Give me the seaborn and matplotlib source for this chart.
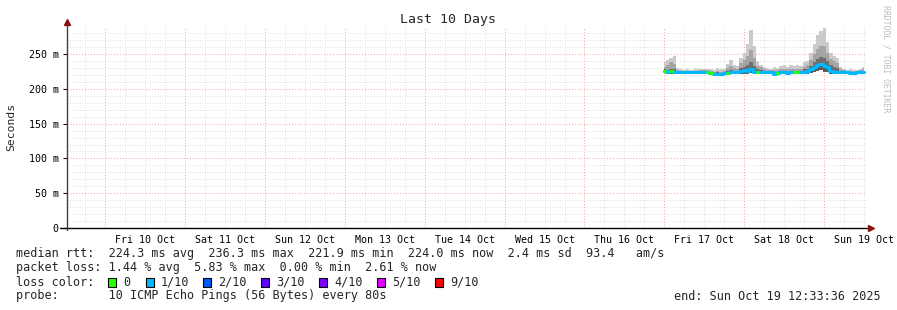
import matplotlib
matplotlib.use("Agg")
import numpy as np
import pandas as pd
import seaborn as sns
import matplotlib.pyplot as plt
from matplotlib.patches import Rectangle

# ---------------- data (hours relative to Fri 17 Oct 00:00, values in ms) -------------
hours = list(range(0, 61))
median_ms = [226, 225, 225.5, 224.5, 224, 224, 223.8, 224, 224, 224,
             224, 224.2, 224.5, 224, 222.5, 222, 222, 222, 222.5, 223,
             224, 224.5, 224.5, 226, 227, 226, 228, 225, 224, 224,
             224, 224, 224, 222, 222.5, 224, 224, 223.5, 224, 224,
             224.5, 224.5, 225, 226, 228, 231, 234, 236, 233, 231,
             226, 224, 224, 224, 224, 224, 223.5, 223, 224, 224, 224.5]
min_ms = [223, 222, 222, 222, 222, 222, 222, 222, 222, 222,
          222, 222, 222, 222, 221, 220.5, 220.5, 220.5, 221, 221,
          222, 222, 222, 222, 222, 222, 223, 222, 222, 222,
          222, 222, 222, 220.5, 221, 222, 222, 221.5, 222, 222,
          222, 222, 222, 222, 223, 224, 226, 227, 225, 224,
          222, 222, 222, 222, 222, 222, 222, 221.5, 222, 222, 222]
upper1_ms = [228, 227, 229, 228, 225, 225, 225, 225, 225, 225,
             225, 225, 225, 225, 224, 223.5, 224, 223.5, 224, 226,
             227, 226, 226, 230, 232, 234, 238, 233, 228, 227,
             226, 225, 225, 224, 224, 226, 226, 225, 226, 225,
             226, 226, 228, 229, 233, 238, 243, 246, 244, 240,
             234, 231, 230, 226, 225, 225, 225, 224.5, 225, 225, 226]
upper2_ms = [232, 235, 238, 236, 227, 226, 226, 226, 226, 226,
             226, 227, 227, 227, 226, 225, 226, 225, 226, 230,
             233, 230, 229, 237, 242, 248, 256, 245, 233, 231,
             229, 227, 227, 227, 227, 229, 229, 228, 229, 228,
             229, 229, 232, 234, 242, 250, 258, 262, 262, 252,
             243, 240, 237, 229, 227, 226, 226, 226, 226, 227, 228]
max_ms = [238, 242, 245, 247, 230, 228, 227, 228, 227, 228,
          228, 229, 228, 229, 228, 227, 230, 228, 229, 236,
          241, 235, 233, 245, 252, 265, 284, 262, 240, 235,
          232, 230, 229, 231, 230, 233, 234, 232, 234, 233,
          235, 233, 238, 240, 252, 265, 278, 283, 287, 268,
          252, 248, 244, 232, 228, 227, 228, 227, 227, 228, 231]
loss = ["0", "1/10", "0", "1/10", "1/10", "1/10", "1/10", "1/10", "1/10", "1/10",
        "1/10", "1/10", "1/10", "0", "0", "1/10", "1/10", "1/10", "1/10", "0",
        "1/10", "1/10", "1/10", "1/10", "1/10", "1/10", "1/10", "1/10", "0", "1/10",
        "1/10", "1/10", "1/10", "1/10", "0", "1/10", "1/10", "1/10", "1/10", "0",
        "0", "1/10", "1/10", "1/10", "1/10", "1/10", "1/10", "1/10", "1/10", "1/10",
        "1/10", "1/10", "1/10", "1/10", "1/10", "1/10", "1/10", "1/10", "1/10", "1/10", "1/10"]

day_labels = ["Fri 10 Oct", "Sat 11 Oct", "Sun 12 Oct", "Mon 13 Oct", "Tue 14 Oct",
              "Wed 15 Oct", "Thu 16 Oct", "Fri 17 Oct", "Sat 18 Oct", "Sun 19 Oct"]
day_noon_hours = [-156, -132, -108, -84, -60, -36, -12, 12, 36, 60]
y_ticks = [0, 50, 100, 150, 200, 250]
y_labels = ["0", "50 m", "100 m", "150 m", "200 m", "250 m"]

loss_names = ["0", "1/10", "2/10", "3/10", "4/10", "5/10", "9/10"]
loss_colors = ["#26ff00", "#00b8ff", "#0059ff", "#5e00ff", "#7e00ff", "#dd00ff", "#ff0000"]

legend_lines = [
    "median rtt:  224.3 ms avg  236.3 ms max  221.9 ms min  224.0 ms now  2.4 ms sd  93.4   am/s",
    "packet loss: 1.44 % avg  5.83 % max  0.00 % min  2.61 % now",
    "loss color:",
    "probe:       10 ICMP Echo Pings (56 Bytes) every 80s",
]
end_text = "end: Sun Oct 19 12:33:36 2025"
title = "Last 10 Days"

df = pd.DataFrame({"hour": hours, "median": median_ms, "lo": min_ms,
                   "u1": upper1_ms, "u2": upper2_ms, "mx": max_ms, "loss": loss})

# ---------------- figure ---------------------------------------------------------------
sns.set_theme(style="white")
plt.rcParams["font.family"] = ["DejaVu Sans Mono", "DejaVu Sans"]

W, H = 897, 310
fig = plt.figure(figsize=(W / 100, H / 100), dpi=100, facecolor="white")
ax = fig.add_axes([67 / W, 82 / H, (866 - 67) / W, (228 - 27) / H])
ax.set_facecolor("white")

x_left, x_right = -179.44, 60.56
ax.set_xlim(x_left, x_right)
ax.set_ylim(0, 289)

# grid
dot = (0, (1, 2))
for v in range(10, 290, 10):
    if v % 50:
        ax.axhline(v, color="#d4d4d4", lw=0.6, ls=dot, zorder=0.5)
for v in y_ticks[1:]:
    ax.axhline(v, color="#f5a0a0", lw=0.7, ls=dot, zorder=0.6)
for h in range(-174, 61, 6):
    if h % 24 == 0:
        ax.axvline(h, color="#f5a0a0", lw=0.7, ls=dot, zorder=0.6)
    else:
        ax.axvline(h, color="#d4d4d4", lw=0.6, ls=dot, zorder=0.5)

# smoke
ax.fill_between(df["hour"], df["u2"], df["mx"], step="mid", color="#cacaca", lw=0, zorder=2)
ax.fill_between(df["hour"], df["u1"], df["u2"], step="mid", color="#a4a4a4", lw=0, zorder=2.1)
ax.fill_between(df["hour"], df["median"], df["u1"], step="mid", color="#6e6e6e", lw=0, zorder=2.2)
ax.fill_between(df["hour"], df["lo"], df["median"], step="mid", color="#5a5a5a", lw=0, zorder=2.2)

# median coloured by loss
sns.lineplot(data=df, x="hour", y="median", drawstyle="steps-mid",
             color=loss_colors[1], lw=2.2, ax=ax, legend=False, zorder=3)
green = df[df["loss"] == "0"]
ax.hlines(green["median"], green["hour"] - 0.5, green["hour"] + 0.5,
          color=loss_colors[0], lw=2.2, zorder=3.5)

# axes decoration
for s in ax.spines.values():
    s.set_visible(False)
ax.set_xlabel("")
ax.set_ylabel("")
ax.set_xticks(day_noon_hours)
ax.set_xticklabels(day_labels)
ax.set_yticks(y_ticks)
ax.set_yticklabels(y_labels)
ax.tick_params(axis="x", length=0, pad=5, labelsize=7.2, colors="black")
ax.tick_params(axis="y", length=3, width=0.8, pad=3, labelsize=7.2, colors="black", left=True)
ax.grid(False)

ax.plot([-0.009, 1.004], [0, 0], transform=ax.transAxes, color="black", lw=1.0,
        clip_on=False, zorder=5)
ax.plot([0, 0], [-0.012, 1.02], transform=ax.transAxes, color="#404040", lw=1.0,
        clip_on=False, zorder=5)
ax.plot([1.006], [0], transform=ax.transAxes, marker=">", color="#8b1010",
        markersize=4, clip_on=False, zorder=6)
ax.plot([0], [1.025], transform=ax.transAxes, marker="^", color="#8b1010",
        markersize=4, clip_on=False, zorder=6)

# texts
fig.text(448 / W, 1 - 20 / H, title, ha="center", va="center", fontsize=9.5)
fig.text(11 / W, 1 - 127 / H, "Seconds", rotation=90, ha="center", va="center", fontsize=8.2)
fig.text(886 / W, 1 - 59 / H, "RRDTOOL / TOBI OETIKER", rotation=270, ha="center",
         va="center", fontsize=5.9, color="#bdbdbd")

line_y = [254, 268, 282, 296]
for txt, yy in zip(legend_lines, line_y):
    fig.text(16 / W, 1 - yy / H, txt, ha="left", va="center", fontsize=8.5)
fig.text(881 / W, 1 - 296 / H, end_text, ha="right", va="center", fontsize=8.5)

sq_x = [108, 146, 203, 261, 319, 377, 435]
for xx, name, col in zip(sq_x, loss_names, loss_colors):
    fig.patches.append(Rectangle((xx / W, 1 - 287 / H), 8 / W, 9 / H, transform=fig.transFigure,
                                 facecolor=col, edgecolor="black", lw=0.8))
    fig.text((xx + 15) / W, 1 - 282 / H, name, ha="left", va="center", fontsize=8.5)

fig.savefig("out.png", dpi=100, facecolor="white")
